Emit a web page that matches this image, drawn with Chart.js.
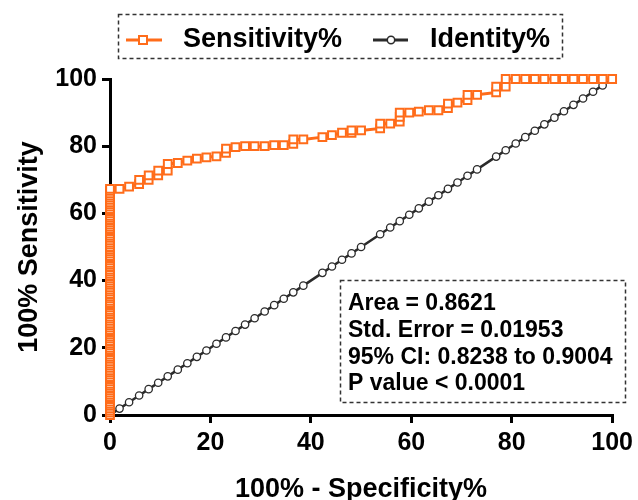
<!DOCTYPE html>
<html>
<head>
<meta charset="utf-8">
<script src="https://cdn.jsdelivr.net/npm/chart.js@4"></script>
<style>
  html, body { margin: 0; padding: 0; background: #fff; }
  canvas { display: block; }
</style>
</head>
<body>
<canvas id="rocChart" width="638" height="500"></canvas>
<script>
//*****************************************************/
//********************** DATOS ************************/
//*****************************************************/

// sensitivity points that sit on 0% (100% - specificity)
const zeroFprSens = [0, 0.7, 1.3, 2.0, 2.7, 3.3, 4.0, 4.7, 5.3, 6.0, 6.7, 7.3, 8.0, 8.7, 9.3, 10.0,
  10.7, 11.3, 12.0, 12.7, 13.3, 14.0, 14.7, 15.3, 16.0, 16.7, 17.3, 18.0, 18.7, 19.3, 20.0, 20.7,
  21.3, 22.0, 22.7, 23.3, 24.0, 24.7, 25.3, 26.0, 26.7, 27.3, 28.0, 28.7, 29.3, 30.0, 30.7, 31.3,
  32.0, 32.7, 33.3, 34.0, 34.7, 35.3, 36.0, 36.7, 37.3, 38.0, 38.7, 39.3, 40.0, 40.7, 41.3, 42.0,
  42.7, 43.3, 44.0, 44.7, 45.3, 46.0, 46.7, 47.3, 48.0, 48.7, 49.3, 50.0, 50.7, 51.3, 52.0, 52.7,
  53.3, 54.0, 54.7, 55.3, 56.0, 56.7, 57.3, 58.0, 58.7, 59.3, 60.0, 60.7, 61.3, 62.0, 62.7, 63.3,
  64.0, 64.7, 65.3, 66.0, 66.7, 67.3];

// rest of the ROC curve (100% - specificity, sensitivity)
const curveFpr = [1.9, 3.8, 5.8, 5.8, 7.7, 7.7, 9.6, 9.6, 11.5, 11.5, 13.5, 15.4, 17.3, 19.2, 21.2,
  23.1, 23.1, 25.0, 26.9, 28.8, 30.8, 32.7, 34.6, 36.5, 36.5, 38.5, 42.3, 44.2, 46.2, 48.1, 48.1,
  50.0, 53.8, 53.8, 55.8, 57.7, 57.7, 57.7, 59.6, 61.5, 63.5, 65.4, 67.3, 67.3, 69.2, 71.2, 71.2,
  73.1, 76.9, 76.9, 78.8, 78.8, 80.8, 82.7, 84.6, 86.5, 88.5, 90.4, 92.3, 94.2, 96.2, 98.1, 100];
const curveSens = [67.3, 68.0, 68.7, 70.0, 70.0, 71.3, 71.3, 72.7, 72.7, 74.7, 75.0, 75.7, 76.3, 76.7, 77.0,
  78.0, 79.3, 79.7, 80.0, 80.0, 80.0, 80.3, 80.3, 80.7, 82.0, 82.0, 82.7, 83.3, 84.0, 84.0, 84.7,
  84.7, 85.3, 86.7, 86.7, 87.3, 88.7, 90.0, 90.0, 90.3, 90.7, 90.7, 91.3, 92.7, 93.0, 93.7, 95.3,
  95.3, 96.0, 97.7, 97.7, 100, 100, 100, 100, 100, 100, 100, 100, 100, 100, 100, 100];

// identity line points
const identityPct = [0, 1.9, 3.8, 5.8, 7.7, 9.6, 11.5, 13.5, 15.4, 17.3, 19.2, 21.2, 23.1, 25.0, 26.9,
  28.8, 30.8, 32.7, 34.6, 36.5, 38.5, 42.3, 44.2, 46.2, 48.1, 50.0, 53.8, 55.8, 57.7, 59.6, 61.5,
  63.5, 65.4, 67.3, 69.2, 71.2, 73.1, 76.9, 78.8, 80.8, 82.7, 84.6, 86.5, 88.5, 90.4, 92.3, 94.2,
  96.2, 98.1, 100];

const seriesNames = ["Sensitivity%", "Identity%"];
const axisTicks = [0, 20, 40, 60, 80, 100];
const statLines = [
  "Area = 0.8621",
  "Std. Error = 0.01953",
  "95% CI: 0.8238 to 0.9004",
  "P value < 0.0001",
];

//*****************************************************/
//********************** ESTILO ***********************/
//*****************************************************/

const naranja = "#ff6c1a";
const gris = "#2b2b2b";
const fuente = '"Liberation Sans", Arial, sans-serif';

const sensData = zeroFprSens
  .map((s) => ({ x: 0, y: s }))
  .concat(curveFpr.map((f, i) => ({ x: f, y: curveSens[i] })));

const identityData = identityPct.map((v) => ({ x: v, y: v }));

// legend + stats box drawn by hand (dashed frames)
const cajasPlugin = {
  id: "cajas",
  afterDraw(chart) {
    const c = chart.ctx;
    c.save();

    // legend frame
    c.strokeStyle = "#333";
    c.lineWidth = 1.5;
    c.setLineDash([4, 3]);
    c.strokeRect(118.5, 14.5, 444, 44);
    c.strokeRect(340.5, 280.5, 285, 122);
    c.setLineDash([]);

    // sensitivity sample
    c.strokeStyle = naranja;
    c.lineWidth = 3;
    c.beginPath();
    c.moveTo(126, 40);
    c.lineTo(162, 40);
    c.stroke();
    c.fillStyle = "#fff";
    c.lineWidth = 2;
    c.fillRect(139, 36, 8, 8);
    c.strokeRect(139, 36, 8, 8);

    // identity sample
    c.strokeStyle = gris;
    c.lineWidth = 3;
    c.beginPath();
    c.moveTo(373, 40);
    c.lineTo(408, 40);
    c.stroke();
    c.lineWidth = 1.5;
    c.beginPath();
    c.arc(391, 40, 3.7, 0, Math.PI * 2);
    c.fill();
    c.stroke();

    c.fillStyle = "#000";
    c.textBaseline = "middle";
    c.textAlign = "left";
    c.font = "bold 27px " + fuente;
    c.fillText(seriesNames[0], 183, 40);
    c.fillText(seriesNames[1], 430, 40);

    c.font = "bold 23px " + fuente;
    statLines.forEach((t, i) => {
      c.fillText(t, 348, 304 + i * 26.7);
    });

    c.restore();
  },
};

//*****************************************************/
//***************** DIBUJANDO EL GRAFICO **************/
//*****************************************************/

const ejeComun = (titulo, pad) => ({
  type: "linear",
  min: 0,
  max: 100,
  afterBuildTicks: (scale) => {
    scale.ticks = axisTicks.map((v) => ({ value: v }));
  },
  ticks: {
    color: "#000",
    padding: 5,
    font: { family: fuente, size: 25, weight: "bold" },
  },
  grid: {
    display: true,
    drawOnChartArea: false,
    drawTicks: true,
    tickLength: 8,
    lineWidth: 3,
    color: "#000",
  },
  border: { display: true, color: "#000", width: 3 },
  title: {
    display: true,
    text: titulo,
    color: "#000",
    padding: pad,
    font: { family: fuente, size: 27, weight: "bold", lineHeight: 0.8 },
  },
});

const ejeX = ejeComun("100% - Specificity%", { top: 0, bottom: 0 });
ejeX.afterFit = (scale) => {
  scale.height = 85;
};

const ejeY = ejeComun("100% Sensitivity", { top: 19, bottom: 0 });
ejeY.afterFit = (scale) => {
  scale.width = 110;
};

new Chart(document.getElementById("rocChart"), {
  type: "scatter",
  data: {
    datasets: [
      {
        label: seriesNames[0],
        data: sensData,
        showLine: true,
        clip: false,
        borderColor: naranja,
        borderWidth: 3,
        pointStyle: "rect",
        pointRadius: 5.5,
        pointBorderWidth: 2,
        pointBackgroundColor: "#fff",
        pointBorderColor: naranja,
      },
      {
        label: seriesNames[1],
        data: identityData,
        showLine: true,
        clip: false,
        borderColor: gris,
        borderWidth: 2.5,
        pointStyle: "circle",
        pointRadius: 3.7,
        pointBorderWidth: 1.3,
        pointBackgroundColor: "#fff",
        pointBorderColor: gris,
      },
    ],
  },
  options: {
    responsive: false,
    animation: false,
    devicePixelRatio: 1,
    layout: { padding: { top: 79, right: 25, left: 0, bottom: 0 } },
    plugins: {
      legend: { display: false },
      tooltip: { enabled: false },
    },
    scales: { x: ejeX, y: ejeY },
  },
  plugins: [cajasPlugin],
});
</script>
</body>
</html>
